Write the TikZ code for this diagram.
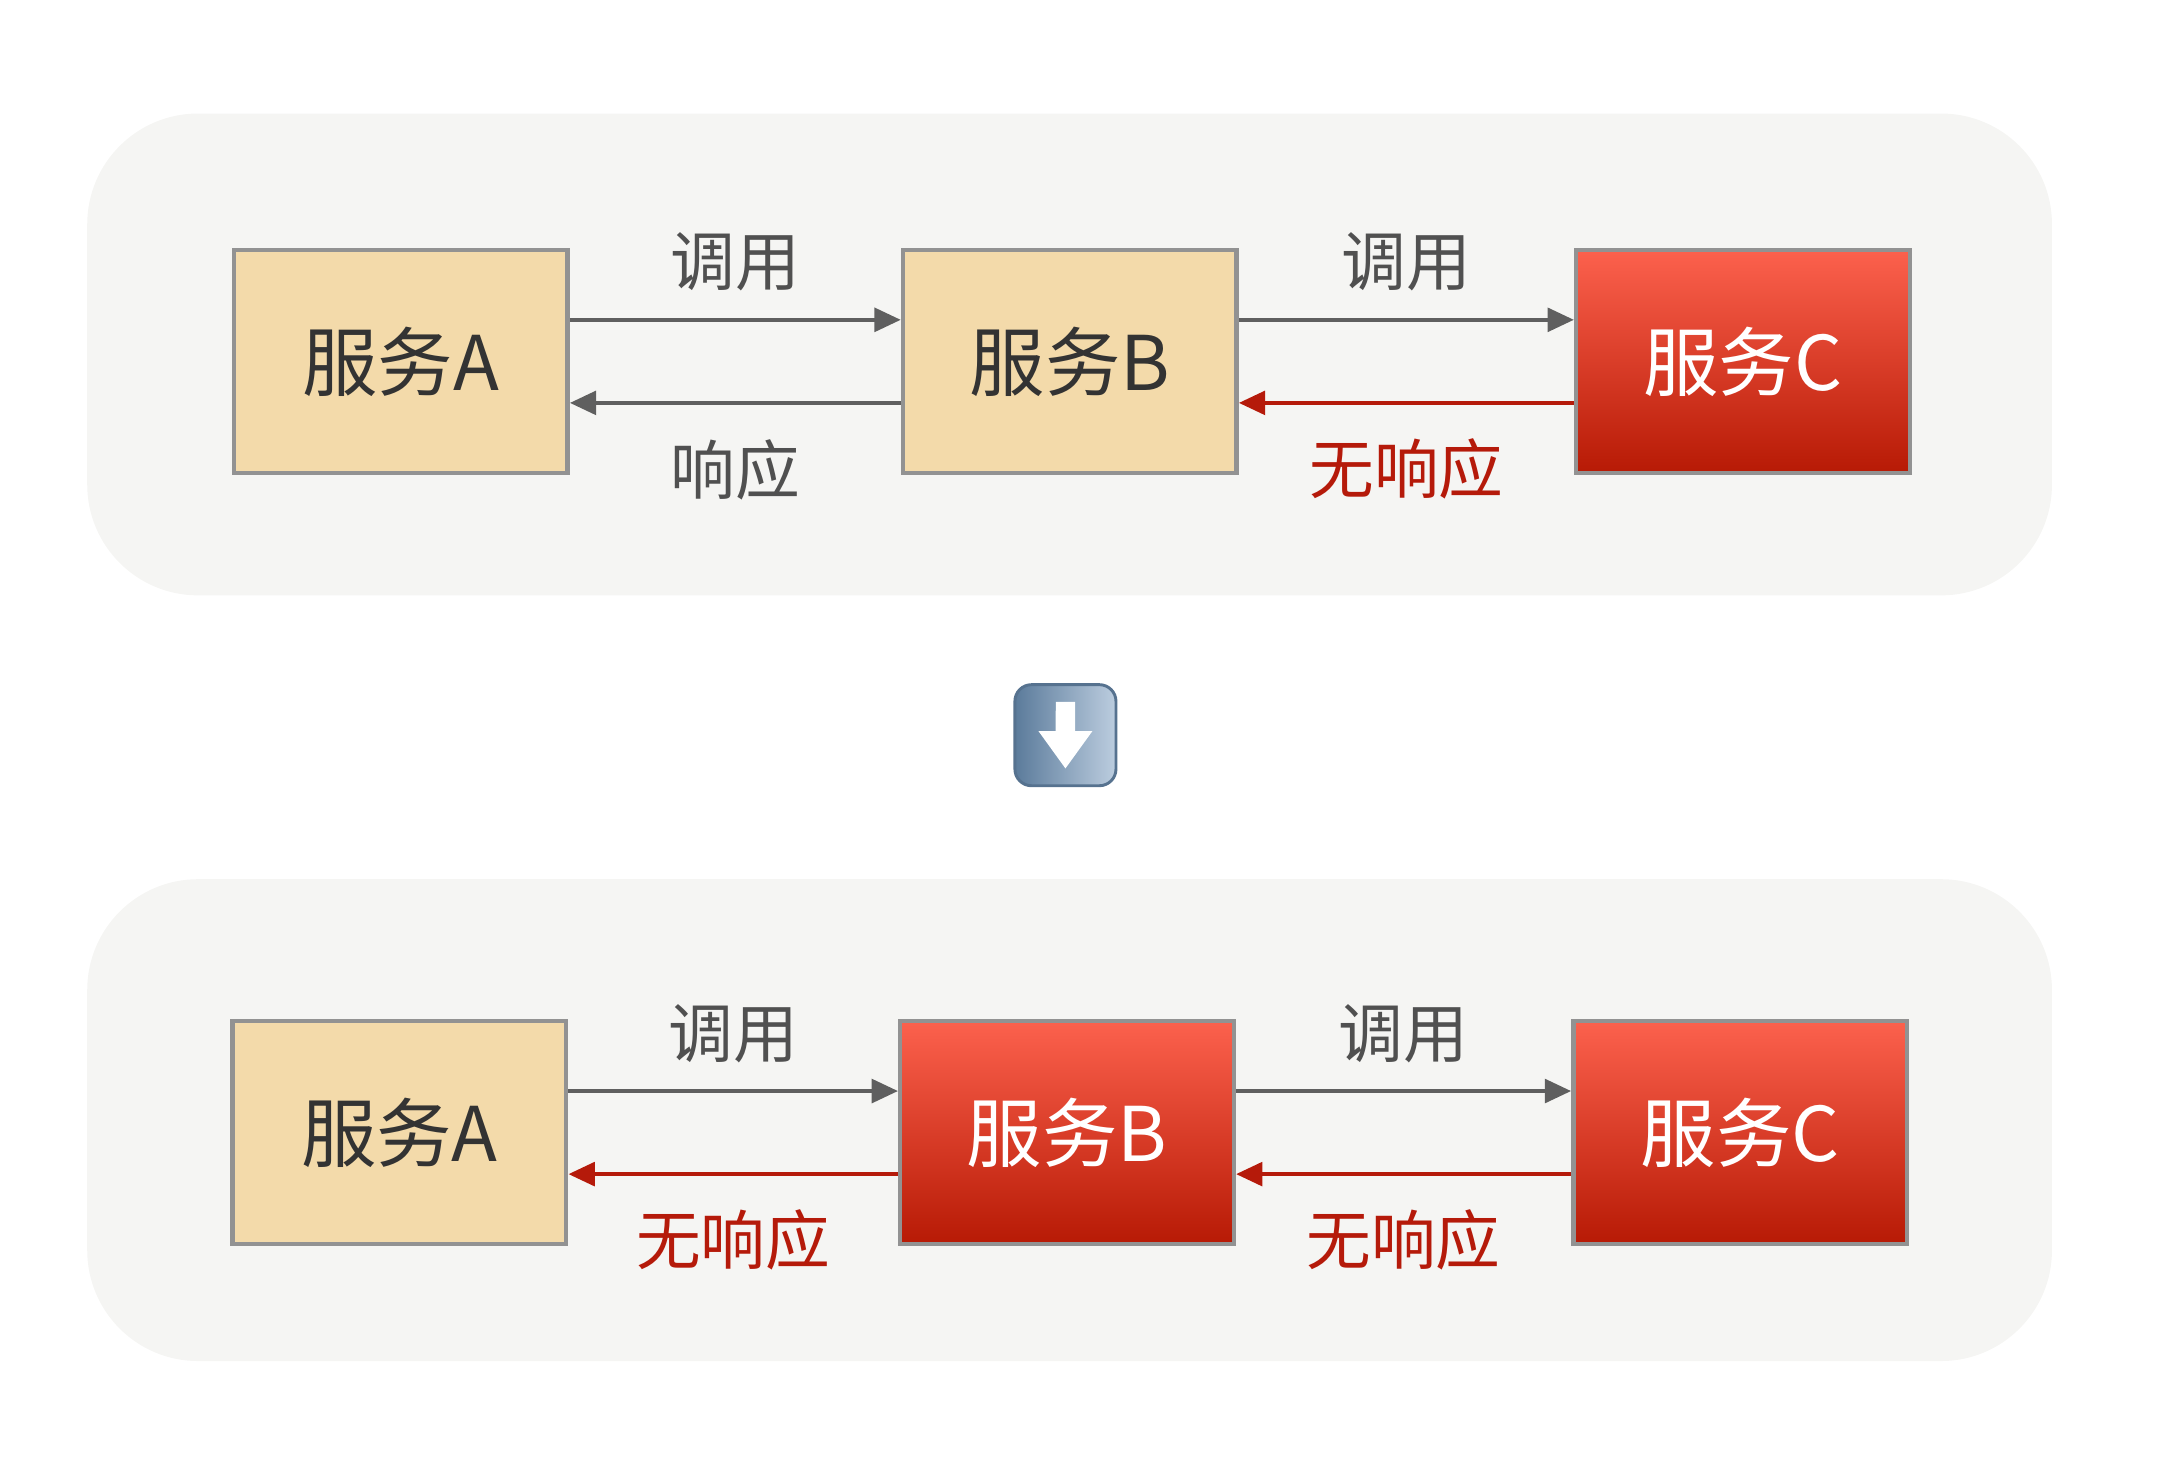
\documentclass[tikz,border=0pt]{standalone}
\usepackage{fontspec}
\setmainfont{Noto Sans CJK SC}
\usepackage{tikz}
\usetikzlibrary{positioning,arrows.meta}

\definecolor{panelbg}{HTML}{F5F5F3}
\definecolor{boxfill}{HTML}{F3DAAA}
\definecolor{boxline}{HTML}{929292}
\definecolor{boxtext}{HTML}{333333}
\definecolor{redtop}{HTML}{FC614D}
\definecolor{redbot}{HTML}{B71A05}
\definecolor{callgray}{HTML}{5F5F5F}
\definecolor{failred}{HTML}{B51A0A}
\definecolor{notegray}{HTML}{505050}
\definecolor{iconleft}{HTML}{5B7B9B}
\definecolor{iconmid}{HTML}{7C9BBA}
\definecolor{iconright}{HTML}{BCCDDF}
\definecolor{iconline}{HTML}{56728F}

\tikzset{
  okbox/.style={draw=boxline, line width=0.9pt, fill=boxfill, minimum width=2.41cm,
    minimum height=1.61cm, inner sep=0pt, text=boxtext, font=\fontsize{15.5}{18}\selectfont},
  downbox/.style={okbox, top color=redtop, bottom color=redbot, text=white},
  call/.style={draw=callgray, line width=0.85pt, -{Triangle[length=0.19cm,width=0.17cm]}},
  noreply/.style={call, draw=failred},
  note/.style={inner sep=0pt, text=notegray, font=\fontsize{13.3}{15}\selectfont},
  badnote/.style={note, text=failred},
  panel/.style={fill=panelbg, rounded corners=0.8cm}
}

\begin{document}
\begin{tikzpicture}

    \useasboundingbox (0,0) rectangle (15.68,-10.63);

    % Draw the two grey panels
    \fill[panel] (0.63,-0.82) rectangle (14.82,-4.30);
    \fill[panel] (0.63,-6.35) rectangle (14.82,-9.83);

    % Top row: only C is down
    \node[okbox] (a1) at (2.895,-2.61) {服务A};
    \node[okbox, right=2.39cm of a1] (b1) {服务B};
    \node[downbox, right=2.42cm of b1] (c1) {服务C};

    \draw[call] ([yshift=0.3cm]a1.east) -- ([yshift=0.3cm]b1.west) node[note, midway, above=0.19cm] {调用};
    \draw[call] ([yshift=-0.3cm]b1.west) -- ([yshift=-0.3cm]a1.east) node[note, midway, below=0.25cm] {响应};
    \draw[call] ([yshift=0.3cm]b1.east) -- ([yshift=0.3cm]c1.west) node[note, midway, above=0.19cm] {调用};
    \draw[noreply] ([yshift=-0.3cm]c1.west) -- ([yshift=-0.3cm]b1.east) node[badnote, midway, below=0.24cm] {无响应};

    % Down arrow icon between the panels
    \node[draw=iconline, line width=0.6pt, rounded corners=0.12cm, minimum size=0.73cm,
      left color=iconleft, middle color=iconmid, right color=iconright] (turn) at (7.695,-5.31) {};
    \fill[white] ([shift={(-0.07,0.24)}]turn.center) -- ++(0.14,0) -- ++(0,-0.21) -- ++(0.125,0)
      -- ++(-0.195,-0.27) -- ++(-0.195,0.27) -- ++(0.125,0) -- cycle;

    % Bottom row: B and C are down
    \node[okbox] (a2) at (2.885,-8.18) {服务A};
    \node[downbox, right=2.38cm of a2] (b2) {服务B};
    \node[downbox, right=2.42cm of b2] (c2) {服务C};

    \draw[call] ([yshift=0.3cm]a2.east) -- ([yshift=0.3cm]b2.west) node[note, midway, above=0.19cm] {调用};
    \draw[noreply] ([yshift=-0.3cm]b2.west) -- ([yshift=-0.3cm]a2.east) node[badnote, midway, below=0.24cm] {无响应};
    \draw[call] ([yshift=0.3cm]b2.east) -- ([yshift=0.3cm]c2.west) node[note, midway, above=0.19cm] {调用};
    \draw[noreply] ([yshift=-0.3cm]c2.west) -- ([yshift=-0.3cm]b2.east) node[badnote, midway, below=0.24cm] {无响应};

  \end{tikzpicture}
\end{document}
